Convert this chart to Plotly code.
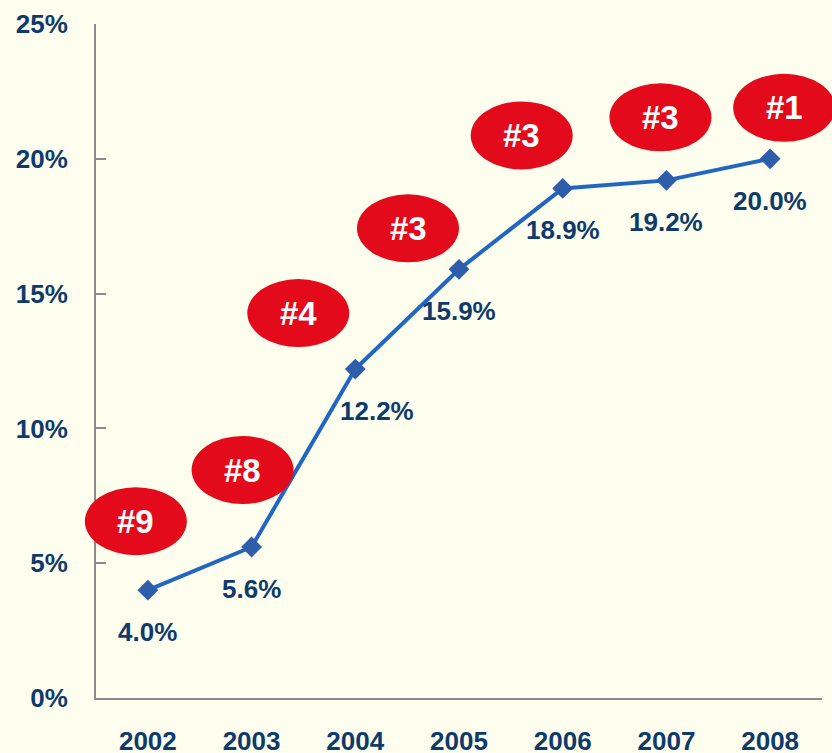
import plotly.graph_objects as go

years = ["2002", "2003", "2004", "2005", "2006", "2007", "2008"]
share = [4.0, 5.6, 12.2, 15.9, 18.9, 19.2, 20.0]
ranks = ["#9", "#8", "#4", "#3", "#3", "#3", "#1"]
y_ticks = [0, 5, 10, 15, 20, 25]
y_tick_text = ["0%", "5%", "10%", "15%", "20%", "25%"]

# pixel offsets of rank bubbles from their points (styling)
bubble_dx = [-12, -9, -57, -51, -41, -6, 14]
bubble_dy = [69, 77, 56, 41, 53, 63, 51]
label_dx = [0, 0, 22, 0, 0, 0, 0]

NAVY = "#0E3A6C"
BG = "#FEFEEF"
RED = "#E30A1C"
FONT = "Liberation Sans"

X_RANGE = [-0.5, len(years) - 0.5]
Y_RANGE = [0, 25]

fig = go.Figure()
fig.add_trace(go.Scatter(
    x=list(range(len(years))), y=share, mode="lines+markers",
    line=dict(color="#2166C0", width=4),
    marker=dict(symbol="diamond", size=16, color="#2E5EAA"),
    hoverinfo="skip", showlegend=False,
))

for i, (v, r) in enumerate(zip(share, ranks)):
    # paper-referenced anchors (derived from axis ranges) so bubbles are not clipped
    px = (i - X_RANGE[0]) / (X_RANGE[1] - X_RANGE[0])
    py = (v - Y_RANGE[0]) / (Y_RANGE[1] - Y_RANGE[0])
    fig.add_shape(type="circle", xref="paper", yref="paper", xsizemode="pixel", ysizemode="pixel",
                  xanchor=px, yanchor=py,
                  x0=bubble_dx[i] - 51, x1=bubble_dx[i] + 51,
                  y0=bubble_dy[i] - 34, y1=bubble_dy[i] + 34,
                  fillcolor=RED, line=dict(width=0), layer="above")
    fig.add_annotation(x=i, y=v, xref="x", yref="y", text="<b>%s</b>" % r, showarrow=False,
                       xshift=bubble_dx[i], yshift=bubble_dy[i],
                       font=dict(family=FONT, size=33, color="white"))
    fig.add_annotation(x=i, y=v, xref="x", yref="y", text="<b>%.1f%%</b>" % v, showarrow=False,
                       xshift=label_dx[i], yshift=-42,
                       font=dict(family=FONT, size=26, color=NAVY))

fig.update_layout(
    width=832, height=753,
    margin=dict(l=96, r=10, t=24, b=55, autoexpand=False),
    paper_bgcolor=BG, plot_bgcolor=BG,
    font=dict(family=FONT, color=NAVY),
    xaxis=dict(range=X_RANGE, tickvals=list(range(len(years))), ticktext=["<b>%s</b>" % y for y in years],
               showgrid=False, zeroline=False, showline=True, linecolor="#8A8A8A", linewidth=2,
               ticks="", tickfont=dict(family=FONT, size=26, color=NAVY), ticklabelstandoff=19),
    yaxis=dict(range=Y_RANGE, tickvals=y_ticks, ticktext=["<b>%s</b>" % t for t in y_tick_text],
               showgrid=False, zeroline=False, showline=True, linecolor="#8A8A8A", linewidth=2,
               ticks="inside", ticklen=10, tickwidth=2, tickcolor="#8A8A8A",
               tickfont=dict(family=FONT, size=26, color=NAVY), ticklabelstandoff=21),
)

fig.write_html("out.html", config={"displayModeBar": False},
               post_script="document.body.style.margin='0';document.body.style.overflow='hidden';document.body.style.background='%s';" % BG)
